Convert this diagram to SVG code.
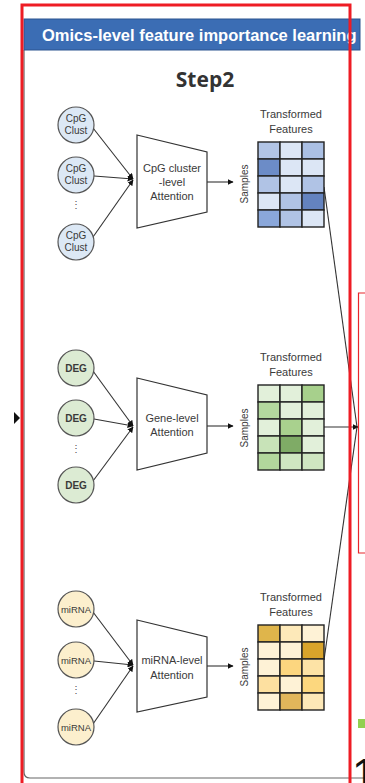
<svg xmlns="http://www.w3.org/2000/svg" width="365" height="783" viewBox="0 0 365 783">
<style>
text{font-family:"Liberation Sans",Arial,sans-serif;fill:#3a3a3a}
.node circle{stroke:#555;stroke-width:1.2}
.cpg circle{fill:#dce8f5}
.deg circle{fill:#dcebd3}
.mir circle{fill:#fcefcd}
.ctext{font-size:10px;text-anchor:middle}
.trap{fill:#fff;stroke:#333;stroke-width:1.2}
.ttext{font-size:11px;text-anchor:middle}
.lbl{font-size:11px;text-anchor:middle}
.grid rect{stroke:#222;stroke-width:1.4}
.conn line,.conn path{stroke:#333;stroke-width:1.1;fill:none}
.dots{font-size:10px;text-anchor:middle;fill:#555}
</style>
<defs>
<marker id="ah" viewBox="0 0 10 10" refX="9" refY="5" markerWidth="6" markerHeight="6" orient="auto" markerUnits="userSpaceOnUse">
<path d="M0,0 L10,5 L0,10 z" fill="#111"/>
</marker>
<clipPath id="barclip"><rect x="24" y="19" width="336" height="31"/></clipPath>
</defs>
<rect x="0" y="0" width="365" height="783" fill="#fff"/>
<!-- panel -->
<path d="M24,50 V772 Q24,778 30,778 H365" fill="#fff" stroke="#666" stroke-width="1.2"/>
<rect x="24" y="19" width="336" height="31" fill="#3b6db4" stroke="#2c5590" stroke-width="1"/>
<text x="42" y="41" clip-path="url(#barclip)" style="font-size:16.5px;font-weight:bold;fill:#fff">Omics-level feature importance learning</text>
<text x="205" y="87" style="font-size:21px;font-weight:bold;fill:#333;text-anchor:middle;font-family:'Open Sans','Liberation Sans',sans-serif">Step2</text>

<!-- connectors -->
<g class="conn" id="connectors">
<line x1="93" y1="128" x2="133" y2="179" marker-end="url(#ah)"/>
<line x1="94" y1="176" x2="133" y2="179" marker-end="url(#ah)"/>
<line x1="93" y1="237" x2="133" y2="180" marker-end="url(#ah)"/>
<line x1="207" y1="182" x2="233" y2="182" marker-end="url(#ah)"/>
<line x1="93" y1="371" x2="133" y2="426" marker-end="url(#ah)"/>
<line x1="94" y1="419" x2="133" y2="426" marker-end="url(#ah)"/>
<line x1="93" y1="481" x2="133" y2="427" marker-end="url(#ah)"/>
<line x1="207" y1="426" x2="233" y2="426" marker-end="url(#ah)"/>
<line x1="93" y1="612" x2="133" y2="665" marker-end="url(#ah)"/>
<line x1="94" y1="661" x2="133" y2="665" marker-end="url(#ah)"/>
<line x1="93" y1="724" x2="133" y2="666" marker-end="url(#ah)"/>
<line x1="207" y1="666" x2="233" y2="666" marker-end="url(#ah)"/>
<line x1="324" y1="187" x2="357" y2="427"/>
<line x1="324" y1="427" x2="358" y2="427" marker-end="url(#ah)"/>
<line x1="324" y1="660" x2="357" y2="427"/>
</g>

<!-- CpG -->
<g id="cpg1" class="node cpg"><circle cx="76" cy="125" r="18"/><text class="ctext" x="76" y="122">CpG</text><text class="ctext" x="76" y="134">Clust</text></g>
<g id="cpg2" class="node cpg"><circle cx="76" cy="175" r="18"/><text class="ctext" x="76" y="172">CpG</text><text class="ctext" x="76" y="184">Clust</text></g>
<text class="dots" x="76" y="208">⋮</text>
<g id="cpg3" class="node cpg"><circle cx="76" cy="242" r="18"/><text class="ctext" x="76" y="239">CpG</text><text class="ctext" x="76" y="251">Clust</text></g>
<g id="cpg-att"><path class="trap" d="M137,135 L207,152 L207,212 L137,228 Z"/><text class="ttext" x="172" y="172">CpG cluster</text><text class="ttext" x="172" y="186">-level</text><text class="ttext" x="172" y="200">Attention</text></g>

<!-- DEG -->
<g id="deg1" class="node deg"><circle cx="76" cy="368" r="18"/><text class="ctext" x="76" y="372" font-weight="bold">DEG</text></g>
<g id="deg2" class="node deg"><circle cx="76" cy="418" r="18"/><text class="ctext" x="76" y="422" font-weight="bold">DEG</text></g>
<text class="dots" x="76" y="452">⋮</text>
<g id="deg3" class="node deg"><circle cx="76" cy="485" r="18"/><text class="ctext" x="76" y="489" font-weight="bold">DEG</text></g>
<g id="gene-att"><path class="trap" d="M137,378 L207,395 L207,453 L137,470 Z"/><text class="ttext" x="172" y="422">Gene-level</text><text class="ttext" x="172" y="436">Attention</text></g>

<!-- miRNA -->
<g id="mir1" class="node mir"><circle cx="76" cy="609" r="18"/><text class="ctext" x="76" y="613" style="font-size:9.5px">miRNA</text></g>
<g id="mir2" class="node mir"><circle cx="76" cy="660" r="18"/><text class="ctext" x="76" y="664" style="font-size:9.5px">miRNA</text></g>
<text class="dots" x="76" y="693">⋮</text>
<g id="mir3" class="node mir"><circle cx="76" cy="727" r="18"/><text class="ctext" x="76" y="731" style="font-size:9.5px">miRNA</text></g>
<g id="mir-att"><path class="trap" d="M137,620 L207,637 L207,697 L137,712 Z"/><text class="ttext" x="172" y="664">miRNA-level</text><text class="ttext" x="172" y="679">Attention</text></g>

<!-- Blue grid -->
<g id="grid-cpg" class="grid">
<text class="lbl" x="291" y="118">Transformed</text><text class="lbl" x="291" y="133">Features</text>
<text class="lbl" transform="translate(248,184) rotate(-90)" style="font-size:10px">Samples</text>
<rect x="258" y="142" width="22" height="17" fill="#b2c5e6"/><rect x="280" y="142" width="22" height="17" fill="#dce6f5"/><rect x="302" y="142" width="22" height="17" fill="#abc0e4"/>
<rect x="258" y="159" width="22" height="17" fill="#6c8cc7"/><rect x="280" y="159" width="22" height="17" fill="#dce6f5"/><rect x="302" y="159" width="22" height="17" fill="#dce6f5"/>
<rect x="258" y="176" width="22" height="17" fill="#b0c3e5"/><rect x="280" y="176" width="22" height="17" fill="#dce6f5"/><rect x="302" y="176" width="22" height="17" fill="#b0c3e5"/>
<rect x="258" y="193" width="22" height="17" fill="#dce6f5"/><rect x="280" y="193" width="22" height="17" fill="#b0c3e5"/><rect x="302" y="193" width="22" height="17" fill="#6483bf"/>
<rect x="258" y="210" width="22" height="17" fill="#8aa7da"/><rect x="280" y="210" width="22" height="17" fill="#b0c3e5"/><rect x="302" y="210" width="22" height="17" fill="#dce6f5"/>
</g>

<!-- Green grid -->
<g id="grid-deg" class="grid">
<text class="lbl" x="291" y="361">Transformed</text><text class="lbl" x="291" y="376">Features</text>
<text class="lbl" transform="translate(248,428) rotate(-90)" style="font-size:10px">Samples</text>
<rect x="258" y="385" width="22" height="17" fill="#e2f0da"/><rect x="280" y="385" width="22" height="17" fill="#e2f0da"/><rect x="302" y="385" width="22" height="17" fill="#a7d08c"/>
<rect x="258" y="402" width="22" height="17" fill="#b3d89e"/><rect x="280" y="402" width="22" height="17" fill="#e2f0da"/><rect x="302" y="402" width="22" height="17" fill="#e2f0da"/>
<rect x="258" y="419" width="22" height="17" fill="#e2f0da"/><rect x="280" y="419" width="22" height="17" fill="#a9d18e"/><rect x="302" y="419" width="22" height="17" fill="#e2f0da"/>
<rect x="258" y="436" width="22" height="17" fill="#c8e3b8"/><rect x="280" y="436" width="22" height="17" fill="#7fab66"/><rect x="302" y="436" width="22" height="17" fill="#e2f0da"/>
<rect x="258" y="453" width="22" height="17" fill="#b2d79c"/><rect x="280" y="453" width="22" height="17" fill="#cfe6c1"/><rect x="302" y="453" width="22" height="17" fill="#cfe6c1"/>
</g>

<!-- Yellow grid -->
<g id="grid-mir" class="grid">
<text class="lbl" x="291" y="601">Transformed</text><text class="lbl" x="291" y="616">Features</text>
<text class="lbl" transform="translate(248,667) rotate(-90)" style="font-size:10px">Samples</text>
<rect x="258" y="625" width="22" height="17" fill="#dfb54b"/><rect x="280" y="625" width="22" height="17" fill="#fde9b9"/><rect x="302" y="625" width="22" height="17" fill="#fef2d6"/>
<rect x="258" y="642" width="22" height="17" fill="#fef2d6"/><rect x="280" y="642" width="22" height="17" fill="#fef2d6"/><rect x="302" y="642" width="22" height="17" fill="#d9a42b"/>
<rect x="258" y="659" width="22" height="17" fill="#fef2d6"/><rect x="280" y="659" width="22" height="17" fill="#fcd67f"/><rect x="302" y="659" width="22" height="17" fill="#fde3a6"/>
<rect x="258" y="676" width="22" height="17" fill="#fde0a0"/><rect x="280" y="676" width="22" height="17" fill="#fef2d6"/><rect x="302" y="676" width="22" height="17" fill="#fcd77e"/>
<rect x="258" y="693" width="22" height="17" fill="#fef2d6"/><rect x="280" y="693" width="22" height="17" fill="#e1b65b"/><rect x="302" y="693" width="22" height="17" fill="#fde8b7"/>
</g>

<!-- slide remnants -->
<path d="M14,412 L20,418 L14,424 Z" fill="#111"/>
<path d="M370,293 H358.5 V553 H370" fill="none" stroke="#e8262b" stroke-width="1.2"/>
<rect x="358" y="719" width="7" height="9" fill="#92d050"/>
<text x="352" y="790" style="font-size:44px;fill:#111">1</text>
<rect x="22" y="5" width="328" height="800" fill="none" stroke="#ee1c24" stroke-width="3"/>
</svg>
